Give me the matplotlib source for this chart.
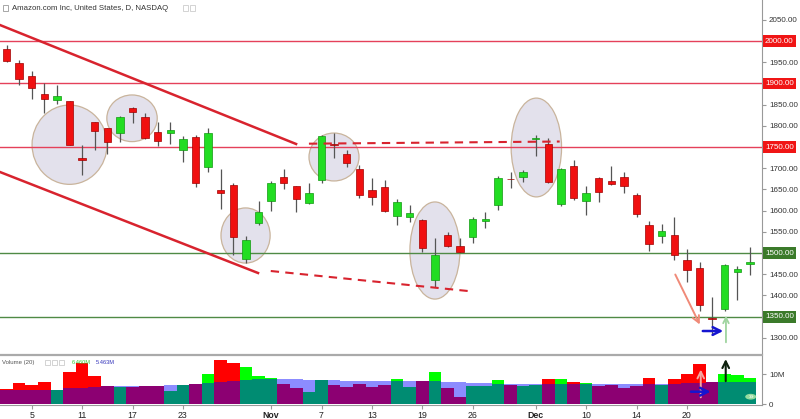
import numpy as np
import matplotlib.pyplot as plt
from matplotlib.patches import Ellipse, Rectangle, Circle
import matplotlib.transforms as mtransforms

plt.rcParams['font.family'] = ['Liberation Sans', 'DejaVu Sans']

# ---------------------------------------------------------------------
# Data (AMZN daily, Oct 3 - Dec 28 2018)
# ---------------------------------------------------------------------
dates = ["10-03", "10-04", "10-05", "10-08", "10-09", "10-10", "10-11", "10-12", "10-15", "10-16",
         "10-17", "10-18", "10-19", "10-22", "10-23", "10-24", "10-25", "10-26", "10-29", "10-30",
         "10-31", "11-01", "11-02", "11-05", "11-06", "11-07", "11-08", "11-09", "11-12", "11-13",
         "11-14", "11-15", "11-16", "11-19", "11-20", "11-21", "11-23", "11-26", "11-27", "11-28",
         "11-29", "11-30", "12-03", "12-04", "12-06", "12-07", "12-10", "12-11", "12-12", "12-13",
         "12-14", "12-17", "12-18", "12-19", "12-20", "12-21", "12-24", "12-26", "12-27", "12-28"]

opens = [1981.7, 1949.0, 1918.0, 1874.0, 1860.0, 1857.9, 1724.0, 1808.0, 1795.0, 1783.5,
         1842.8, 1821.5, 1785.2, 1784.0, 1742.2, 1773.7, 1703.3, 1649.6, 1660.0, 1486.2,
         1570.0, 1623.5, 1678.6, 1657.6, 1618.4, 1673.0, 1755.0, 1732.5, 1698.2, 1649.3,
         1656.3, 1587.4, 1586.0, 1577.0, 1437.5, 1543.0, 1517.0, 1539.0, 1575.0, 1613.9,
         1675.0, 1679.5, 1769.5, 1756.0, 1614.9, 1705.1, 1623.8, 1678.0, 1669.0, 1680.0,
         1638.0, 1566.0, 1540.0, 1543.1, 1484.0, 1465.0, 1346.0, 1368.9, 1454.2, 1473.4]
highs = [1989.7, 1956.0, 1929.1, 1902.0, 1896.7, 1858.6, 1755.4, 1809.0, 1795.1, 1823.9,
         1845.0, 1830.2, 1809.1, 1809.5, 1776.3, 1777.7, 1794.8, 1698.5, 1665.7, 1541.0,
         1623.9, 1670.5, 1697.4, 1658.1, 1665.0, 1779.0, 1784.0, 1743.9, 1708.6, 1677.1,
         1673.0, 1626.9, 1614.5, 1581.0, 1534.8, 1550.0, 1536.2, 1584.8, 1597.7, 1681.5,
         1690.0, 1696.0, 1778.3, 1770.3, 1701.1, 1718.9, 1658.0, 1679.5, 1705.0, 1692.1,
         1642.6, 1576.1, 1567.6, 1584.5, 1509.5, 1480.0, 1396.0, 1473.2, 1469.0, 1513.5]
lows = [1949.8, 1896.6, 1862.8, 1830.7, 1852.3, 1754.4, 1685.1, 1742.5, 1734.2, 1761.6,
        1807.0, 1767.9, 1753.0, 1756.0, 1714.0, 1656.6, 1692.0, 1603.0, 1495.0, 1476.4,
        1565.1, 1598.4, 1651.8, 1596.4, 1614.6, 1664.1, 1725.1, 1701.9, 1630.0, 1613.8,
        1597.1, 1565.1, 1573.0, 1503.0, 1420.0, 1515.0, 1501.8, 1524.2, 1558.0, 1601.2,
        1652.3, 1666.5, 1730.0, 1665.0, 1609.9, 1625.5, 1590.9, 1619.6, 1660.3, 1641.5,
        1585.0, 1505.0, 1523.0, 1483.2, 1432.7, 1364.0, 1307.0, 1363.0, 1390.3, 1449.0]
closes = [1952.8, 1909.4, 1889.7, 1864.4, 1870.3, 1755.3, 1719.4, 1788.6, 1761.0, 1820.0,
          1831.7, 1770.7, 1764.0, 1789.3, 1768.7, 1664.2, 1782.2, 1642.8, 1538.9, 1530.4,
          1598.0, 1665.5, 1665.5, 1627.8, 1642.8, 1776.0, 1754.9, 1712.4, 1636.9, 1631.2,
          1599.0, 1619.4, 1593.4, 1512.3, 1495.5, 1516.7, 1502.1, 1581.3, 1581.4, 1677.8,
          1673.6, 1690.2, 1772.4, 1668.4, 1699.2, 1629.1, 1641.0, 1643.2, 1663.5, 1658.4,
          1591.9, 1520.9, 1551.5, 1495.1, 1460.8, 1377.5, 1344.0, 1470.9, 1461.6, 1478.0]

# volume and its 20-day average, millions
volumes = [5.0, 7.1, 6.5, 7.2, 4.8, 10.8, 13.6, 9.2, 6.1, 5.8,
           5.6, 5.9, 5.9, 4.3, 6.5, 6.8, 10.1, 14.7, 13.6, 12.2,
           9.3, 8.6, 6.7, 5.4, 4.1, 8.1, 6.5, 5.8, 6.7, 5.8,
           6.4, 8.2, 5.8, 7.8, 10.7, 5.4, 2.4, 6.1, 6.1, 8.1,
           6.4, 6.1, 6.4, 8.5, 8.5, 7.3, 7.1, 6.0, 6.4, 5.2,
           6.1, 8.7, 6.4, 8.5, 9.9, 13.3, 7.3, 10.1, 9.7, 8.7]
vol_ma = [4.8, 4.8, 4.8, 4.8, 4.8, 5.2, 5.5, 5.8, 6.0, 5.9,
          5.9, 5.9, 6.0, 6.2, 6.4, 6.6, 7.1, 7.4, 7.8, 8.0,
          8.2, 8.5, 8.5, 8.2, 8.1, 8.0, 7.9, 7.8, 7.7, 7.7,
          7.7, 7.8, 7.8, 7.8, 7.6, 7.3, 7.2, 7.1, 6.9, 6.8,
          6.7, 6.6, 6.6, 6.6, 6.7, 6.7, 6.7, 6.7, 6.7, 6.7,
          6.7, 6.7, 6.8, 6.8, 6.9, 7.1, 7.2, 7.3, 7.4, 7.5]

tick_dates = ["10-05", "10-11", "10-17", "10-23", "11-01", "11-07", "11-13",
              "11-19", "11-26", "12-03", "12-10", "12-14", "12-20"]
tick_labels = ["5", "11", "17", "23", "Nov", "7", "13", "19", "26", "Dec", "10", "14", "20"]

price_ticks = [1300, 1400, 1450, 1550, 1600, 1650, 1700, 1800, 1850, 1950, 2050]
red_levels = [2000, 1900, 1750]
green_levels = [1500, 1350]

# drawings: trend lines (bar index, price)
upper_line = [(-0.52, 2037.7), (22.98, 1757.2)]
lower_line = [(-0.52, 1691.1), (19.96, 1453.0)]
upper_dash = [(24.0, 1757.9), (43.9, 1763.0)]
lower_dash = [(20.97, 1457.7), (36.8, 1410.0)]
# ellipses: centre index, centre price, width (bars), height (price)
ellipses = [(5.0, 1755.5, 5.95, 187.0),
            (9.96, 1817.8, 4.0, 110.0),
            (18.97, 1541.4, 3.9, 130.0),
            (25.99, 1726.5, 3.97, 113.0),
            (34.0, 1506.0, 3.97, 229.0),
            (42.05, 1748.9, 4.0, 233.0)]

# ---------------------------------------------------------------------
# Figure
# ---------------------------------------------------------------------
W, H = 800, 419
fig = plt.figure(figsize=(W / 100, H / 100), dpi=100)
ax = fig.add_axes([0, 1 - 354 / H, 762 / W, 354 / H])
axv = fig.add_axes([0, 1 - 405 / H, 762 / W, 49 / H])

x = np.arange(len(dates))
o = np.array(opens); c = np.array(closes)
up = c >= o

# ellipses behind the candles
for ex, ey, ew, eh in ellipses:
    ax.add_patch(Ellipse((ex, ey), ew, eh, facecolor='#e3e1ec', edgecolor='#c9b49c',
                         lw=0.9, zorder=1))

# horizontal levels
for lv in red_levels:
    ax.axhline(lv, color='#e5415a', lw=1.0, zorder=1.5)
for lv in green_levels:
    ax.axhline(lv, color='#4f8a45', lw=1.0, zorder=1.5)

# candles
ax.vlines(x, lows, highs, color='#555555', lw=0.9, zorder=2)
body = np.maximum(np.abs(c - o), 2.0)
ax.bar(x[up], body[up], bottom=np.minimum(o, c)[up], width=0.58,
       color='#22dd22', edgecolor='#119911', lw=0.5, zorder=3)
ax.bar(x[~up], body[~up], bottom=np.minimum(o, c)[~up], width=0.58,
       color='#f01010', edgecolor='#a00000', lw=0.5, zorder=3)

# trend lines
red_line = '#d8232e'
for seg in (upper_line, lower_line):
    ax.plot([seg[0][0], seg[1][0]], [seg[0][1], seg[1][1]], color=red_line, lw=1.8, zorder=4)
for seg in (upper_dash, lower_dash):
    ax.plot([seg[0][0], seg[1][0]], [seg[0][1], seg[1][1]], color=red_line, lw=1.5,
            ls=(0, (4, 3)), zorder=4)

# arrows in price pane
ax.annotate('', xy=(55.12, 1325.6), xytext=(52.98, 1455.3),
            arrowprops=dict(arrowstyle='->', color='#f08a78', lw=1.4, mutation_scale=12), zorder=5)
ax.annotate('', xy=(57.1, 1316.2), xytext=(55.04, 1316.2),
            arrowprops=dict(arrowstyle='->', color='#1515d0', lw=1.8, mutation_scale=14), zorder=5)
ax.annotate('', xy=(57.1, 1359.0), xytext=(57.1, 1283.0),
            arrowprops=dict(arrowstyle='->', color='#9fd49f', lw=1.3, mutation_scale=10), zorder=5)

ax.set_xlim(-0.52, 59.96)
ax.set_ylim(1262, 2096.7)

# right axis
ax.yaxis.tick_right()
ax.set_yticks(price_ticks)
ax.set_yticklabels(['%.2f' % v for v in price_ticks])
ax.tick_params(axis='y', length=3, width=0.8, color='#999999', labelsize=5.8,
               labelcolor='#333333', pad=2)
ax.set_xticks([])
for s in ['top', 'left', 'bottom']:
    ax.spines[s].set_visible(False)
ax.spines['right'].set_color('#999999')

trans = mtransforms.blended_transform_factory(ax.transAxes, ax.transData)
for lv in red_levels:
    ax.text(1.004, lv, '%.2f' % lv, transform=trans, ha='left', va='center', fontsize=5.8,
            color='white', bbox=dict(boxstyle='square,pad=0.3', fc='#f01515', ec='none'),
            clip_on=False, zorder=6)
for lv in green_levels:
    ax.text(1.004, lv, '%.2f' % lv, transform=trans, ha='left', va='center', fontsize=5.8,
            color='white', bbox=dict(boxstyle='square,pad=0.3', fc='#3b7a2a', ec='none'),
            clip_on=False, zorder=6)

# title
ax.text(12 / 762, 1 - 8 / 354, 'Amazon.com Inc, United States, D, NASDAQ', transform=ax.transAxes,
        fontsize=5.6, color='#333333', ha='left', va='center')
fig.patches.append(Rectangle((3 / W, 1 - 11 / H), 5 / W, 6 / H, transform=fig.transFigure,
                             fill=False, ec='#999999', lw=0.6))
for bx in (183, 190):
    fig.patches.append(Rectangle((bx / W, 1 - 11 / H), 5 / W, 6 / H, transform=fig.transFigure,
                                 fill=False, ec='#cccccc', lw=0.6))

# ---------------------------------------------------------------------
# Volume pane
# ---------------------------------------------------------------------
vcol = np.where(up, '#00ff00', '#ff0000')
axv.bar(x, volumes, width=1.0, color=vcol, lw=0, antialiased=False, zorder=1)
axv.bar(x, vol_ma, width=1.0, color='#0000ff', alpha=0.45, lw=0, antialiased=False, zorder=2)

axv.annotate('', xy=(55.1, 12.4), xytext=(55.1, 1.3),
             arrowprops=dict(arrowstyle='->', color='#f4a6a0', lw=1.4, mutation_scale=12), zorder=5)
axv.annotate('', xy=(56.1, 4.1), xytext=(54.1, 4.1),
             arrowprops=dict(arrowstyle='->', color='#1515d0', lw=1.8, mutation_scale=14), zorder=5)
axv.annotate('', xy=(57.08, 15.9), xytext=(57.08, 6.7),
             arrowprops=dict(arrowstyle='->', color='#0c200c', lw=1.5, mutation_scale=12),
             zorder=5, annotation_clip=False)
axv.add_patch(Circle((750.7 / W, 1 - 396.7 / H), 5.5 / W, transform=fig.transFigure,
                     fc='#a5e6a5', ec='none', alpha=0.9, zorder=6, clip_on=False))
fig.text(750.7 / W, 1 - 397 / H, '»', fontsize=6, color='white', ha='center', va='center')

axv.set_xlim(-0.52, 59.96)
axv.set_ylim(-1 / 3, 16.0)
axv.yaxis.tick_right()
axv.set_yticks([0, 10])
axv.set_yticklabels(['0', '10M'])
axv.tick_params(axis='y', length=3, width=0.8, color='#999999', labelsize=5.8,
                labelcolor='#333333', pad=2)
pos = [dates.index(d) for d in tick_dates]
axv.set_xticks(pos)
axv.set_xticklabels(tick_labels)
axv.tick_params(axis='x', length=3, width=0.8, color='#999999', labelsize=6.3,
                labelcolor='#222222', pad=1)
for lab in axv.get_xticklabels():
    if lab.get_text() in ('Nov', 'Dec'):
        lab.set_fontweight('bold')
for s in ['top', 'left']:
    axv.spines[s].set_visible(False)
axv.spines['right'].set_color('#999999')
axv.spines['bottom'].set_color('#999999')

axv.text(2 / 762, 1 - 6 / 49, 'Volume (20)', transform=axv.transAxes, fontsize=4.3,
         color='#555555', ha='left', va='center')
for bx in (45, 52, 59):
    fig.patches.append(Rectangle((bx / W, 1 - 365 / H), 5 / W, 5 / H, transform=fig.transFigure,
                                 fill=False, ec='#cccccc', lw=0.6))
axv.text(72 / 762, 1 - 6 / 49, '6.460M', transform=axv.transAxes, fontsize=4.1,
         color='#33cc33', ha='left', va='center')
axv.text(96 / 762, 1 - 6 / 49, '5.463M', transform=axv.transAxes, fontsize=4.1,
         color='#3333bb', ha='left', va='center')

# pane separator
fig.add_artist(plt.Line2D([0, 762 / W], [1 - 354.5 / H, 1 - 354.5 / H], transform=fig.transFigure,
                          color='#aaaaaa', lw=1.6))

fig.savefig('out.png', dpi=100)
